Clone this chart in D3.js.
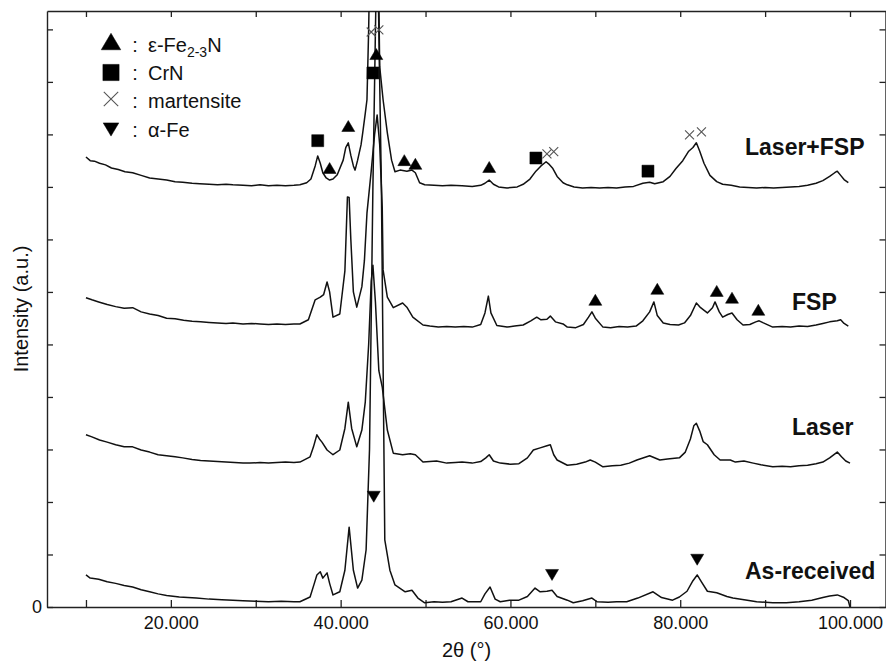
<!DOCTYPE html>
<html>
<head>
<meta charset="utf-8">
<script src="https://cdn.jsdelivr.net/npm/d3@7/dist/d3.min.js"></script>
<style>
  html, body { margin: 0; padding: 0; background: #fff; }
  svg { display: block; }
  text { font-family: "Liberation Sans", Arial, Helvetica, sans-serif; fill: #111; }
</style>
</head>
<body>
<svg id="chart" width="886" height="664"></svg>
<script>
// ---------------- data (2θ in degrees, intensity in a.u.) ----------------
const xTicks = [10, 20, 30, 40, 50, 60, 70, 80, 90, 100];
const xTickLabels = ["", "20.000", "", "40.000", "", "60.000", "", "80.000", "", "100.000"];
const yTicks = [0, 1, 2, 3, 4, 5, 6, 7, 8, 9, 10, 11];
const yTickLabels = ["0", "", "", "", "", "", "", "", "", "", "", ""];

const seriesNames = ["Laser+FSP", "FSP", "Laser", "As-received"];

const laserFSP = [
  [10.0,8.57],[10.5,8.50],[11.0,8.49],[11.6,8.45],[12.3,8.42],[13.0,8.36],[13.8,8.33],[14.6,8.29],
  [15.5,8.27],[16.5,8.22],[17.5,8.17],[18.5,8.15],[19.5,8.13],[20.5,8.10],[21.4,8.09],[22.5,8.07],
  [23.4,8.06],[24.5,8.05],[25.5,8.04],[26.5,8.05],[27.3,8.04],[28.5,8.03],[29.5,8.02],[30.5,8.04],
  [31.5,8.02],[32.5,8.03],[33.5,8.02],[34.5,8.03],[35.2,8.04],[36.0,8.08],[36.5,8.15],[37.0,8.40],
  [37.3,8.59],[37.6,8.45],[37.9,8.27],[38.3,8.17],[38.7,8.13],[39.1,8.15],[39.6,8.23],[40.3,8.51],
  [40.6,8.75],[40.9,8.84],[41.2,8.60],[41.5,8.40],[41.7,8.32],[42.0,8.51],[42.4,8.80],[42.6,9.03],
  [42.9,9.40],[43.1,9.66],[43.3,11.0],[43.5,13.0],[44.0,15.0],[44.4,13.0],[44.5,11.5],[44.6,10.29],
  [45.0,9.66],[45.5,9.03],[46.0,8.51],[46.4,8.29],[47.0,8.32],[47.8,8.30],[48.4,8.32],[48.8,8.27],
  [49.3,8.08],[49.9,8.04],[51.0,8.03],[52.0,8.02],[53.0,8.03],[54.3,8.02],[55.5,8.01],[56.5,8.03],
  [57.0,8.07],[57.5,8.13],[58.0,8.05],[58.6,8.00],[59.6,7.98],[60.8,8.00],[61.5,8.05],[62.3,8.15],
  [63.0,8.30],[63.6,8.40],[64.2,8.48],[64.5,8.44],[65.0,8.35],[65.5,8.20],[66.2,8.08],[66.7,8.04],
  [67.5,8.00],[68.5,7.98],[69.5,7.99],[70.5,7.98],[71.5,7.99],[72.5,7.98],[73.5,8.00],[74.5,8.01],
  [75.6,8.07],[76.4,8.09],[77.0,8.06],[78.0,8.10],[78.8,8.20],[79.5,8.35],[80.3,8.50],[81.0,8.68],
  [81.5,8.75],[81.9,8.84],[82.3,8.68],[82.8,8.45],[83.5,8.22],[84.3,8.10],[85.0,8.05],[86.0,8.03],
  [87.0,8.00],[88.0,7.99],[89.0,7.98],[90.0,7.99],[91.0,7.98],[92.0,7.99],[93.0,8.00],[94.0,8.01],
  [95.0,8.03],[96.0,8.07],[96.8,8.12],[97.6,8.20],[98.2,8.27],[98.5,8.30],[98.9,8.22],[99.3,8.14],
  [99.8,8.08]
];

const fsp = [
  [10.0,5.89],[10.7,5.85],[11.5,5.81],[12.5,5.76],[13.5,5.72],[14.5,5.69],[15.5,5.70],[16.5,5.62],
  [17.5,5.58],[18.5,5.55],[19.5,5.50],[20.5,5.49],[21.5,5.46],[22.5,5.44],[23.5,5.43],[24.5,5.42],
  [25.5,5.41],[26.5,5.40],[27.3,5.41],[28.5,5.39],[29.5,5.40],[30.5,5.39],[31.5,5.38],[32.5,5.39],
  [33.5,5.38],[34.5,5.39],[35.2,5.39],[36.2,5.47],[37.0,5.85],[37.6,5.90],[38.0,5.95],[38.4,6.19],
  [38.7,6.00],[39.1,5.52],[39.9,5.58],[40.5,6.40],[40.8,7.81],[41.0,7.80],[41.2,7.00],[41.5,6.00],
  [41.9,5.71],[42.5,6.10],[42.8,6.60],[43.1,7.50],[43.6,8.30],[44.0,9.00],[44.3,9.37],[44.6,8.80],
  [44.9,7.60],[45.0,6.42],[45.5,5.90],[46.2,5.70],[47.3,5.79],[47.8,5.71],[48.5,5.52],[49.7,5.37],
  [50.5,5.35],[51.5,5.33],[52.5,5.34],[53.5,5.33],[54.5,5.34],[55.5,5.33],[56.5,5.38],[57.0,5.60],
  [57.4,5.92],[57.7,5.60],[58.4,5.36],[59.6,5.33],[60.5,5.35],[61.5,5.37],[62.4,5.45],[63.1,5.52],
  [63.6,5.47],[64.3,5.48],[64.7,5.54],[65.3,5.43],[66.2,5.39],[66.7,5.33],[67.7,5.32],[68.6,5.38],
  [69.2,5.52],[69.6,5.62],[70.0,5.50],[70.9,5.33],[71.8,5.32],[72.8,5.34],[73.8,5.33],[74.8,5.35],
  [75.6,5.45],[76.4,5.62],[76.9,5.81],[77.3,5.55],[78.0,5.41],[78.8,5.38],[79.8,5.37],[80.5,5.41],
  [81.2,5.55],[81.9,5.79],[82.4,5.70],[83.2,5.60],[83.8,5.70],[84.1,5.81],[84.6,5.62],[85.0,5.52],
  [85.6,5.57],[86.1,5.60],[86.7,5.47],[87.4,5.37],[88.2,5.38],[88.9,5.43],[89.3,5.45],[89.8,5.41],
  [90.9,5.33],[92.0,5.34],[93.0,5.33],[94.0,5.35],[95.0,5.34],[96.0,5.37],[96.8,5.40],[97.6,5.43],
  [98.5,5.45],[98.9,5.47],[99.3,5.40],[99.8,5.35]
];

const laser = [
  [10.0,3.28],[10.7,3.24],[11.6,3.18],[12.5,3.14],[13.5,3.09],[14.5,3.05],[15.5,3.05],[16.5,2.99],
  [17.5,2.95],[18.5,2.90],[19.5,2.88],[20.5,2.86],[21.4,2.84],[22.5,2.81],[23.5,2.79],[24.5,2.78],
  [25.5,2.77],[26.5,2.76],[27.5,2.75],[28.5,2.74],[29.3,2.74],[30.5,2.75],[31.5,2.74],[32.5,2.75],
  [33.5,2.76],[34.5,2.75],[35.2,2.76],[36.4,2.86],[36.8,3.05],[37.2,3.28],[37.5,3.20],[37.8,3.14],
  [38.4,2.99],[39.1,2.90],[39.9,2.99],[40.5,3.40],[40.9,3.90],[41.3,3.40],[41.9,3.05],[42.5,3.37],
  [42.9,3.90],[43.3,5.00],[43.6,6.20],[43.8,6.51],[44.1,5.80],[44.5,4.50],[44.9,4.19],[45.5,3.37],
  [46.2,2.93],[47.3,2.90],[48.2,2.92],[48.8,2.90],[49.7,2.76],[51.3,2.78],[52.5,2.74],[53.5,2.75],
  [54.3,2.76],[55.5,2.74],[56.5,2.77],[57.1,2.84],[57.5,2.90],[58.0,2.78],[58.8,2.74],[60.0,2.72],
  [61.0,2.73],[62.0,2.84],[62.7,2.99],[63.5,3.03],[64.3,3.07],[64.7,3.09],[65.1,2.90],[65.5,2.80],
  [66.7,2.70],[67.8,2.72],[68.8,2.76],[69.4,2.80],[70.0,2.76],[70.9,2.67],[72.0,2.69],[73.0,2.70],
  [74.0,2.74],[74.9,2.80],[76.4,2.88],[77.6,2.80],[78.5,2.82],[79.9,2.84],[80.6,2.95],[81.2,3.20],
  [81.6,3.45],[81.9,3.50],[82.3,3.35],[82.7,3.15],[83.2,3.09],[84.0,2.90],[84.7,2.80],[85.9,2.80],
  [86.5,2.76],[87.5,2.78],[88.6,2.74],[89.5,2.71],[90.9,2.67],[92.0,2.68],[93.0,2.67],[94.0,2.69],
  [95.0,2.70],[96.0,2.73],[96.8,2.76],[97.6,2.84],[98.5,2.95],[99.0,2.86],[99.5,2.78],[100.0,2.74]
];

const asReceived = [
  [10.0,0.61],[10.5,0.55],[11.5,0.53],[12.5,0.48],[13.5,0.45],[14.5,0.41],[15.5,0.38],[16.5,0.33],
  [17.5,0.29],[18.5,0.25],[19.5,0.22],[20.0,0.21],[21.0,0.19],[22.0,0.18],[23.0,0.17],[24.5,0.15],
  [26.0,0.14],[27.3,0.13],[28.5,0.12],[30.0,0.11],[31.5,0.10],[33.0,0.11],[34.5,0.10],[35.2,0.10],
  [36.4,0.19],[36.9,0.45],[37.2,0.61],[37.6,0.67],[37.9,0.55],[38.4,0.65],[38.7,0.45],[39.1,0.23],
  [39.9,0.29],[40.5,0.70],[41.0,1.52],[41.5,0.70],[42.0,0.36],[42.5,0.51],[43.0,1.09],[43.4,3.00],
  [43.8,8.00],[44.3,13.0],[44.8,8.00],[45.2,1.28],[45.8,0.70],[46.4,0.42],[47.6,0.29],[48.4,0.32],
  [49.1,0.17],[49.9,0.08],[51.0,0.10],[52.0,0.09],[53.0,0.10],[54.3,0.17],[55.0,0.10],[56.5,0.10],
  [57.0,0.25],[57.6,0.38],[58.2,0.15],[58.8,0.10],[59.9,0.13],[61.0,0.13],[62.0,0.20],[62.9,0.36],
  [63.5,0.29],[64.3,0.30],[64.9,0.32],[65.5,0.20],[66.7,0.13],[67.4,0.08],[68.5,0.12],[69.6,0.17],
  [70.2,0.10],[71.5,0.09],[72.5,0.10],[73.7,0.10],[75.0,0.17],[76.8,0.29],[77.8,0.18],[79.1,0.13],
  [79.9,0.19],[80.8,0.30],[81.5,0.50],[82.0,0.61],[82.5,0.48],[83.2,0.30],[84.3,0.27],[85.5,0.20],
  [86.2,0.17],[87.9,0.13],[89.0,0.10],[90.9,0.08],[92.5,0.08],[94.0,0.10],[95.5,0.13],[96.8,0.18],
  [97.6,0.21],[98.5,0.23],[99.3,0.18],[99.8,0.12],[100.0,0.0]
];

// phase markers: [type, 2θ, intensity]
const phaseMarkers = [
  ["square",37.3,8.88],["up",38.7,8.36],["up",40.9,9.16],["up",44.2,10.53],["square",43.8,10.17],
  ["x",43.6,10.95],["x",44.5,10.99],["up",47.5,8.51],["up",48.8,8.44],["up",57.5,8.38],
  ["square",63.0,8.55],["x",64.3,8.63],["x",65.1,8.67],["square",76.2,8.30],["x",81.1,8.99],["x",82.5,9.05],
  ["up",70.0,5.85],["up",77.3,6.06],["up",84.3,6.02],["up",86.1,5.89],["up",89.2,5.66],
  ["down",43.9,2.10],["down",64.9,0.61],["down",82.0,0.90]
];

const legendTypes = ["up", "square", "x", "down"];
const legendLabels = ["ε-Fe|2-3|N", "CrN", "martensite", "α-Fe"];

// ---------------- layout ----------------
const svg = d3.select("#chart");
const L = 47, T = 11, R = 886, B = 607;

const x = d3.scaleLinear().domain([5.41, 104.24]).range([L, R]);
const y = d3.scaleLinear().domain([0, 11.35]).range([B, T]);

svg.append("defs").append("clipPath").attr("id", "plotclip")
  .append("rect").attr("x", L).attr("y", T).attr("width", R - L).attr("height", B - T);

const axisColor = "#222";
function styleAxis(g) {
  g.selectAll("path.domain").attr("stroke", axisColor).attr("stroke-width", 1.4);
  g.selectAll(".tick line").attr("stroke", axisColor).attr("stroke-width", 1.3);
  g.selectAll("text").style("font-family", '"Liberation Sans", Arial, sans-serif')
    .style("font-size", "18px").attr("fill", "#111");
}

svg.append("g").attr("transform", `translate(0,${B})`)
  .call(d3.axisBottom(x).tickValues(xTicks).tickSizeInner(-7).tickSizeOuter(0).tickPadding(9)
    .tickFormat((d, i) => xTickLabels[i]))
  .call(styleAxis);

svg.append("g").attr("transform", `translate(0,${T})`)
  .call(d3.axisTop(x).tickValues(xTicks).tickSizeInner(-6).tickSizeOuter(0).tickFormat(""))
  .call(styleAxis);

svg.append("g").attr("transform", `translate(${L},0)`)
  .call(d3.axisLeft(y).tickValues(yTicks).tickSizeInner(-6).tickSizeOuter(0).tickPadding(5)
    .tickFormat((d, i) => yTickLabels[i]))
  .call(styleAxis);

svg.append("g").attr("transform", `translate(${R - 0.5},0)`)
  .call(d3.axisRight(y).tickValues(yTicks).tickSizeInner(-6).tickSizeOuter(0).tickFormat(""))
  .call(styleAxis);

// ---------------- traces ----------------
const line = d3.line().x(d => x(d[0])).y(d => y(d[1]));
const traces = [laserFSP, fsp, laser, asReceived];
svg.append("g").attr("clip-path", "url(#plotclip)")
  .selectAll("path.trace").data(traces).join("path")
  .attr("class", "trace")
  .attr("d", line)
  .attr("fill", "none")
  .attr("stroke", "#111")
  .attr("stroke-width", 1.5)
  .attr("stroke-linejoin", "round");

// ---------------- markers ----------------
function markerPath(type, s) {
  if (type === "up") { const w = 13 * s, h = 11 * s; return `M0,${-h/2}L${w/2},${h/2}L${-w/2},${h/2}Z`; }
  if (type === "down") { const w = 13 * s, h = 11 * s; return `M0,${h/2}L${w/2},${-h/2}L${-w/2},${-h/2}Z`; }
  if (type === "square") { const a = 12 * s; return `M${-a/2},${-a/2}h${a}v${a}h${-a}Z`; }
  const r = 4.5 * s; return `M${-r},${-r}L${r},${r}M${-r},${r}L${r},${-r}`;
}
function drawMarker(g, type, s) {
  const p = g.append("path").attr("d", markerPath(type, s));
  if (type === "x") p.attr("fill", "none").attr("stroke", "#555").attr("stroke-width", 1.1);
  else p.attr("fill", "#000").attr("stroke", "#000").attr("stroke-width", 0.5);
}
const mg = svg.append("g");
phaseMarkers.forEach(m => {
  const g = mg.append("g").attr("transform", `translate(${x(m[1])},${y(m[2])})`);
  drawMarker(g, m[0], 1);
});

// ---------------- legend ----------------
const legendRows = [
  {cy: 41.5, base: 52, s: 1.5},
  {cy: 72.5, base: 80, s: 1.35},
  {cy: 99, base: 108, s: 1.6},
  {cy: 129.5, base: 137, s: 1.2}
];
legendTypes.forEach((t, i) => {
  const r = legendRows[i];
  const g = svg.append("g").attr("transform", `translate(111,${r.cy})`);
  drawMarker(g, t, r.s);
  svg.append("text").attr("x", 135).attr("y", r.base).attr("text-anchor", "middle")
    .style("font-size", "20px").text(":");
  const parts = legendLabels[i].split("|");
  const tx = svg.append("text").attr("x", 148).attr("y", r.base).style("font-size", "20px");
  tx.append("tspan").text(parts[0]);
  if (parts.length > 1) {
    tx.append("tspan").attr("dy", 5).style("font-size", "14px").text(parts[1]);
    tx.append("tspan").attr("dy", -5).text(parts[2]);
  }
});

// ---------------- series labels ----------------
const seriesLabelPos = [[745, 155], [792, 310], [792, 435], [745, 579]];
seriesNames.forEach((n, i) => {
  svg.append("text").attr("x", seriesLabelPos[i][0]).attr("y", seriesLabelPos[i][1])
    .style("font-size", "23px").style("font-weight", "bold").text(n);
});

// ---------------- axis titles ----------------
svg.append("text").attr("x", (L + R) / 2).attr("y", 657).attr("text-anchor", "middle")
  .style("font-size", "20px").text("2θ (°)");
svg.append("text").attr("transform", `translate(28,${(T + B) / 2}) rotate(-90)`)
  .attr("text-anchor", "middle").style("font-size", "20px").text("Intensity (a.u.)");
</script>
</body>
</html>
